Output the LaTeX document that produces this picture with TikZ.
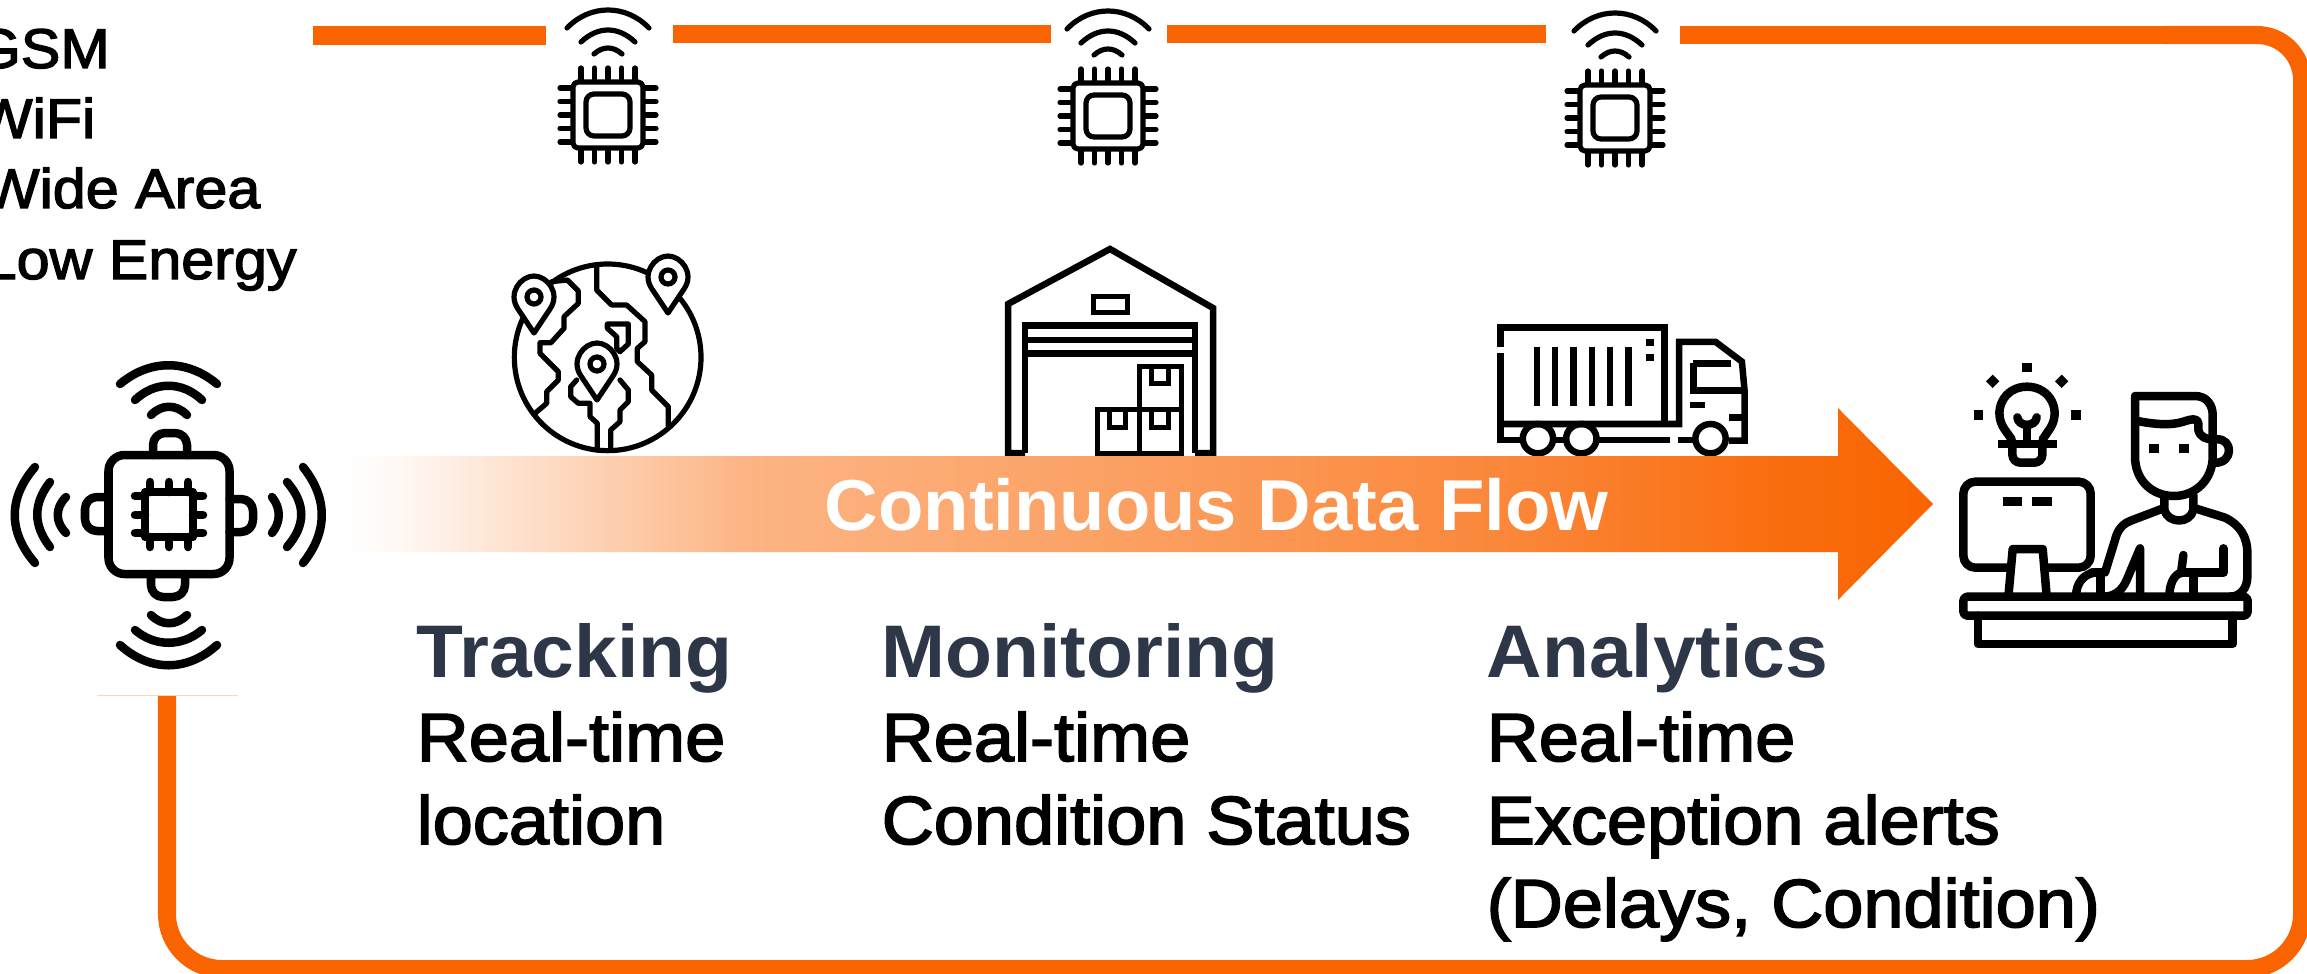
\documentclass[tikz,border=0pt]{standalone}
\usepackage{fontspec}
\newfontfamily\labelfont{Liberation Sans}[FakeStretch=1.06,FakeBold=2.4]
\newfontfamily\headfont{Liberation Sans}[FakeStretch=1.03]
\definecolor{flowOrange}{HTML}{F96400}
\definecolor{headInk}{HTML}{2D3748}
\pgfdeclarehorizontalshading{flowshade}{100bp}{
  color(0bp)=(white);color(25bp)=(white);color(26.5bp)=(flowOrange!4);
  color(29bp)=(flowOrange!14);color(33bp)=(flowOrange!30);
  color(37.5bp)=(flowOrange!48);color(50bp)=(flowOrange!62);
  color(62bp)=(flowOrange!78);color(70bp)=(flowOrange!94);
  color(75bp)=(flowOrange);color(100bp)=(flowOrange)}
\tikzset{
  x=0.01cm,y=-0.01cm,
  framerule/.style={draw=flowOrange,line width=0.18cm},
  thinicon/.style={draw=black,line width=0.052cm,line cap=round,line join=round},
  midicon/.style={draw=black,line width=0.065cm,line join=miter},
  bigicon/.style={draw=black,line width=0.085cm,line cap=round,line join=round},
  listtext/.style={anchor=base west,inner sep=0pt,font=\labelfont\fontsize{15.9}{19.9}\selectfont},
  bodytext/.style={anchor=base west,inner sep=0pt,font=\labelfont\fontsize{19.35}{23.6}\selectfont},
  headtext/.style={anchor=base west,inner sep=0pt,text=headInk,font=\headfont\bfseries\fontsize{21.2}{25}\selectfont},
  chipicon/.pic={
    % wifi arcs
    \draw[thinicon] (-41,-87) .. controls (-18,-111) and (18,-111) .. (41,-87);
    \draw[thinicon] (-27,-73) .. controls (-10,-89) and (10,-89) .. (27,-73);
    \draw[thinicon] (-14,-61) .. controls (-5,-69) and (5,-69) .. (14,-61);
    % chip body with its pins
    \draw[thinicon,rounded corners=0.05cm] (-35,-33) rectangle (35,33);
    \draw[thinicon,rounded corners=0.08cm] (-22,-21) rectangle (22,21);
    \foreach \p in {-27,-13.5,0,13.5,27}{
      \draw[thinicon] (\p,-47) -- (\p,-35);
      \draw[thinicon] (\p,35) -- (\p,47);
      \draw[thinicon] (-48,\p) -- (-37,\p);
      \draw[thinicon] (37,\p) -- (48,\p);
    }
  },
  mappin/.pic={
    \filldraw[thinicon,fill=white] (0,36) -- (-16,12) .. controls (-27,-4) and (-13,-21) .. (0,-21)
      .. controls (13,-21) and (27,-4) .. (16,12) -- cycle;
    \draw[thinicon] (0,0) circle (7);
  },
}
\begin{document}
\begin{tikzpicture}
\useasboundingbox (0,0) rectangle (2307,973);
% the loop round the picture
\coordinate (loopStart) at (167,695);
\coordinate (loopEnd) at (2165,35);
\draw[framerule,rounded corners=0.55cm] (loopStart) -- (167,969) -- (2302,969)
  [rounded corners=0.45cm] -- (2302,35) -- (loopEnd);
\draw[flowOrange!25,line width=0.01cm] (97,695) -- (238,695);
% top bar pieces between the chips
\draw[framerule] (313,35.5) -- (546,35.5);
\draw[framerule] (673,34) -- (1051,34);
\draw[framerule] (1167,34) -- (1546,34);
\draw[framerule] (1680,35) -- (2172,35);
\pic (chipA) at (608,115) {chipicon};
\pic (chipB) at (1108,116) {chipicon};
\pic (chipC) at (1615,118) {chipicon};
% sensor on the left
\begin{scope}[bigicon]
  \draw[rounded corners=0.16cm] (108.5,455) rectangle (229.5,574);
  \draw[rounded corners=0.12cm] (153,455) -- (153,433) -- (187,433) -- (187,455);
  \draw[rounded corners=0.12cm] (151,574) -- (151,597) -- (185,597) -- (185,574);
  \draw[rounded corners=0.12cm] (108.5,497) -- (85,497) -- (85,531) -- (108.5,531);
  \draw[rounded corners=0.12cm] (229.5,499) -- (253,499) -- (253,532) -- (229.5,532);
  \draw (145,492) rectangle (193,537);
  \foreach \p in {150,169,188}{
    \draw (\p,482) -- (\p,492);
    \draw (\p,537) -- (\p,547);
  }
  \foreach \p in {496,515,533}{
    \draw (135,\p) -- (145,\p);
    \draw (193,\p) -- (203,\p);
  }
  \draw (120,384) .. controls (150,359) and (187,359) .. (217,384);
  \draw (135,400) .. controls (155,381) and (182,381) .. (202,400);
  \draw (151,415) .. controls (162,404) and (176,404) .. (187,415);
  \draw (120,645) .. controls (150,672) and (187,672) .. (217,645);
  \draw (135,630) .. controls (155,647) and (182,647) .. (202,630);
  \draw (151,615) .. controls (162,626) and (176,626) .. (187,615);
  \draw (35,467) .. controls (8,498) and (8,532) .. (35,563);
  \draw (50,482) .. controls (33,504) and (33,525) .. (50,547);
  \draw (66,497) .. controls (55,508) and (55,522) .. (66,533);
  \draw (303,467) .. controls (328,498) and (328,532) .. (303,563);
  \draw (287,482) .. controls (306,504) and (306,525) .. (287,547);
  \draw (272,497) .. controls (281,508) and (281,522) .. (272,533);
\end{scope}
% globe
\begin{scope}[shift={(480,220)},scale=1/3]
  \draw[thinicon] (383,412) circle (280);
  \draw[thinicon] (215,185) -- (262,180) -- (295,213) -- (295,250) -- (252,290) -- (252,325) -- (213,368)
    -- (180,368) -- (180,400) -- (235,455) -- (235,480) -- (200,515) -- (200,550) -- (165,580);
  \draw[thinicon] (350,135) -- (350,210) -- (395,255) -- (440,255) -- (495,305) -- (495,365) -- (472,385)
    -- (472,425) -- (515,465) -- (515,510) -- (565,560) -- (565,620);
  \draw[thinicon] (382,312) -- (445,312) -- (445,372) -- (420,395) -- (410,385) -- (410,350) -- (382,325) -- cycle;
  \draw[thinicon] (290,480) -- (272,500) -- (272,530) -- (295,550) -- (330,550) -- (330,590) -- (352,610) -- (352,690);
  \draw[thinicon] (420,480) -- (445,510) -- (445,545) -- (420,570) -- (420,605) -- (392,630) -- (392,690);
\end{scope}
\pic (pinA) at (534,297) {mappin};
\pic (pinB) at (668,277) {mappin};
\pic (pinC) at (597,364) {mappin};
% warehouse
\begin{scope}[midicon]
  \draw (1025,453) -- (1008,453) -- (1008,304) -- (1110,249) -- (1213,308) -- (1213,453) -- (1195,453);
  \draw (1025,453) -- (1025,325.5) -- (1195,325.5) -- (1195,453);
  \draw (1025,340) -- (1195,340);
  \draw (1025,353.5) -- (1195,353.5);
  \draw[line width=0.05cm] (1093,296) rectangle (1127,312);
  \draw[line width=0.05cm] (1139,366) rectangle (1181,409);
  \draw[line width=0.05cm] (1097,409) rectangle (1139,453);
  \draw[line width=0.05cm] (1139,409) rectangle (1181,453);
  \draw[line width=0.05cm] (1151,366) -- (1151,383) -- (1168,383) -- (1168,366);
  \draw[line width=0.05cm] (1109,409) -- (1109,427) -- (1125,427) -- (1125,409);
  \draw[line width=0.05cm] (1151,409) -- (1151,427) -- (1168,427) -- (1168,409);
\end{scope}
% truck, measured on a squeezed crop
\begin{scope}[midicon,shift={(960,0)},xscale=0.523,yscale=1/3]
  \draw (1033,1040) -- (1033,983) -- (1347,983) -- (1347,1272);
  \draw (1070,1320) -- (1033,1320) -- (1033,1060);
  \draw (1033,1272) -- (1375,1272) -- (1375,1026) -- (1445,1026) -- (1495,1085) -- (1500,1170) -- (1500,1322) -- (1470,1322);
  \draw (1402,1090) -- (1475,1090);
  \draw (1402,1090) -- (1402,1172) -- (1497,1172);
  \foreach \p in {1103,1138,1173,1208,1243,1278}{
    \draw (\p,1040) -- (\p,1218);
  }
  \fill (1312,1018) rectangle (1326,1038);
  \fill (1312,1062) rectangle (1326,1082);
  \fill (1396,1205) rectangle (1425,1225);
  \fill (1470,1243) rectangle (1495,1262);
  \draw (1140,1320) -- (1155,1320);
  \draw (1222,1320) -- (1358,1320);
  \draw (1372,1320) -- (1405,1320);
  \foreach \p in {1105,1188,1435}{
    \draw (\p,1316) circle [x radius=29,y radius=44];
  }
\end{scope}
% the flow arrow
\path[shading=flowshade] (347,456) -- (1838,456) -- (1838,408) -- (1933,504) -- (1838,600) -- (1838,552) -- (347,552) -- cycle;
\node[anchor=base west,inner sep=0pt,text=white,font=\headfont\bfseries\fontsize{20.5}{24}\selectfont] (flowLabel) at (824,530) {Continuous Data Flow};
% person at the desk
\begin{scope}[bigicon,shift={(1900,340)},scale=1/3]
  \draw (335,298) -- (315,270) .. controls (275,215) and (310,140) .. (381,140) .. controls (452,140) and (487,215) .. (447,270) -- (428,298);
  \draw[line cap=butt] (295,312) -- (470,312);
  \draw[rounded corners=0.08cm] (337,320) -- (337,368) -- (427,368) -- (427,320);
  \draw (352,232) .. controls (355,262) and (407,262) .. (410,232);
  \draw (381,258) -- (381,298);
  \fill (367,68) rectangle (396,97);
  \fill (221,211) rectangle (249,240);
  \fill (514,211) rectangle (543,240);
  \fill (278,104) -- (298,124) -- (278,144) -- (258,124) -- cycle;
  \fill (485,104) -- (505,124) -- (485,144) -- (465,124) -- cycle;
  \draw[rounded corners=0.12cm] (328,683) -- (190,683) -- (190,425) -- (572,425) -- (572,683) -- (436,683);
  \draw (325,770) -- (338,627) -- (428,627) -- (440,770);
  \fill (308,470) rectangle (367,497);
  \fill (396,470) rectangle (455,497);
  \draw[rounded corners=0.04cm] (190,770) rectangle (1043,827);
  \draw (234,827) -- (234,912) -- (998,912) -- (998,827);
  \draw (705,168) -- (885,168) .. controls (920,168) and (938,195) .. (938,225) -- (938,350) .. controls (938,420) and (885,468) .. (822,468)
    .. controls (755,468) and (705,420) .. (705,350) -- cycle;
  \draw (712,243) .. controls (760,252) and (810,258) .. (850,245) .. controls (870,238) and (895,232) .. (895,250) -- (895,270) .. controls (900,292) and (920,298) .. (938,298);
  \draw (950,298) .. controls (1000,295) and (1000,370) .. (945,368);
  \fill (748,312) rectangle (778,340);
  \fill (837,312) rectangle (866,340);
  \draw (793,470) -- (793,510) .. controls (805,552) and (870,552) .. (880,510) -- (880,465);
  \draw (790,505) -- (690,543) .. controls (660,555) and (650,580) .. (645,600) -- (615,697) -- (575,697);
  \draw (885,505) -- (975,533) .. controls (1020,555) and (1042,590) .. (1042,640) -- (1042,710) .. controls (1042,745) and (1020,770) .. (990,770);
  \draw (590,697) .. controls (550,700) and (528,730) .. (528,770);
  \draw (602,697) -- (602,770);
  \draw (720,770) -- (720,625) -- (680,720) .. controls (665,755) and (640,770) .. (610,770);
  \draw (850,645) -- (843,700);
  \draw (843,698) .. controls (820,705) and (808,735) .. (808,770);
  \draw (880,700) -- (880,770);
  \draw (843,698) -- (970,698) -- (970,625);
\end{scope}
% texts
\node[listtext] (listGsm) at (-26,68) {GSM};
\node[listtext] (listWifi) at (-24,138) {WiFi};
\node[listtext] (listWide) at (-17,208) {Wide Area};
\node[listtext] (listLow) at (-17,279) {Low Energy};
\node[headtext] (headTrack) at (416,677) {Tracking};
\node[bodytext] (trackA) at (416,761) {Real-time};
\node[bodytext] (trackB) at (416,844) {location};
\node[headtext] (headMon) at (881,677) {Monitoring};
\node[bodytext] (monA) at (881,761) {Real-time};
\node[bodytext] (monB) at (881,844) {Condition Status};
\node[headtext] (headAna) at (1486,677) {Analytics};
\node[bodytext] (anaA) at (1486,761) {Real-time};
\node[bodytext] (anaB) at (1486,844) {Exception alerts};
\node[bodytext] (anaC) at (1486,927) {(Delays, Condition)};
\end{tikzpicture}
\end{document}
